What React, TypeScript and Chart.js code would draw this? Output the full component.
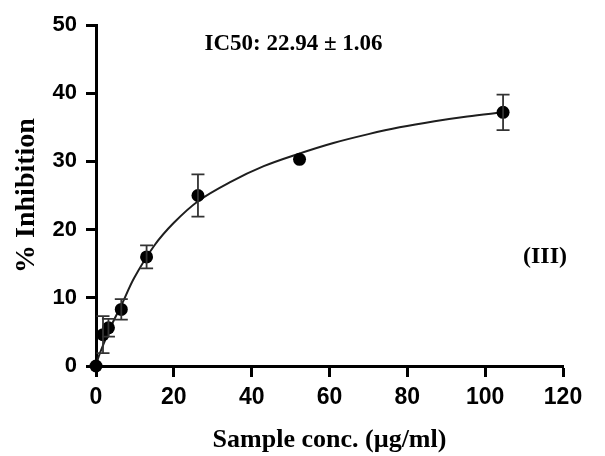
import React, { useEffect, useRef } from "react";
import { Chart, registerables } from "chart.js";

Chart.register(...registerables);

const conc = [0, 1.8, 3.2, 6.5, 13.0, 26.2, 52.3, 104.6];
const inhibition = [0, 4.6, 5.6, 8.3, 16.0, 25.0, 30.3, 37.2];
const errors = [0, 2.7, 1.3, 1.5, 1.7, 3.1, 0, 2.6];

// Fitted curve
const curveX = [0, 0.7, 2, 4, 6.6, 9.8, 14.9, 20, 26.3, 34.6, 43.1, 52, 61, 70, 78, 87, 95.4, 104.6];
const curveY = [0, 1.4, 3.3, 6.0, 9.0, 12.9, 17.6, 21.0, 24.2, 27.0, 29.3, 31.1, 32.7, 34.0, 35.0, 35.9, 36.6, 37.2];

const xTicks = [0, 20, 40, 60, 80, 100, 120];
const yTicks = [0, 10, 20, 30, 40, 50];

const titleText = "IC50: 22.94 ± 1.06";
const panelText = "(III)";
const xTitle = "Sample conc. (µg/ml)";
const yTitle = "% Inhibition";

const SERIF = "'Liberation Serif', 'Times New Roman', serif";
const SANS = "'Liberation Sans', Arial, sans-serif";

const errorBarPlugin = {
  id: "errorBars",
  afterDatasetsDraw(chart: any) {
    const { ctx, scales } = chart;
    const xs = scales.x;
    const ys = scales.y;
    ctx.save();
    ctx.strokeStyle = "#333";
    ctx.lineWidth = 1.8;
    for (let i = 0; i < conc.length; i++) {
      const e = errors[i];
      if (!e) continue;
      const px = xs.getPixelForValue(conc[i]);
      const top = ys.getPixelForValue(inhibition[i] + e);
      const bot = ys.getPixelForValue(inhibition[i] - e);
      ctx.beginPath();
      ctx.moveTo(px, top);
      ctx.lineTo(px, bot);
      ctx.moveTo(px - 6.5, top);
      ctx.lineTo(px + 6.5, top);
      ctx.moveTo(px - 6.5, bot);
      ctx.lineTo(px + 6.5, bot);
      ctx.stroke();
    }
    ctx.restore();
  },
};

const textPlugin = {
  id: "annotText",
  afterDraw(chart: any) {
    const { ctx } = chart;
    ctx.save();
    ctx.fillStyle = "#000";
    ctx.textAlign = "center";
    ctx.textBaseline = "middle";
    ctx.font = `bold 23px ${SERIF}`;
    ctx.fillText(titleText, 293.5, 44);
    ctx.font = `bold 24px ${SERIF}`;
    ctx.fillText(panelText, 545, 257);
    ctx.restore();
  },
};

export default function App() {
  const ref = useRef<HTMLCanvasElement | null>(null);

  useEffect(() => {
    if (!ref.current) return;
    const points = conc.map((x, i) => ({ x, y: inhibition[i] }));
    const curve = curveX.map((x, i) => ({ x, y: curveY[i] }));
    const chart = new Chart(ref.current, {
      type: "scatter",
      data: {
        datasets: [
          {
            label: "data",
            data: points,
            showLine: false,
            pointRadius: 6.5,
            pointHoverRadius: 6.5,
            backgroundColor: "#000",
            borderColor: "#000",
            borderWidth: 0,
            clip: false,
            order: 1,
          } as any,
          {
            label: "fit",
            data: curve,
            showLine: true,
            pointRadius: 0,
            borderColor: "#1e1e1e",
            borderWidth: 2,
            tension: 0.35,
            fill: false,
            clip: false,
            order: 2,
          } as any,
        ],
      },
      options: {
        responsive: false,
        animation: false,
        events: [],
        layout: { padding: { top: 25, right: 42, left: 0, bottom: 0 } },
        plugins: { legend: { display: false }, tooltip: { enabled: false } },
        scales: {
          x: {
            type: "linear",
            min: 0,
            max: 120,
            afterBuildTicks(scale: any) {
              scale.ticks = xTicks.map((v) => ({ value: v }));
            },
            ticks: {
              color: "#000",
              font: { family: SANS, weight: "bold", size: 23 },
              padding: 7,
              maxRotation: 0,
              autoSkip: false,
            },
            grid: {
              drawOnChartArea: false,
              drawTicks: true,
              tickLength: 11,
              tickWidth: 3,
              tickColor: "#000",
            },
            border: { display: true, color: "#000", width: 3 },
            title: {
              display: true,
              text: xTitle,
              color: "#000",
              font: { family: SERIF, weight: "bold", size: 26 },
              padding: { top: 0, bottom: 0 },
            },
            afterFit(scale: any) {
              scale.height = 90;
            },
          },
          y: {
            type: "linear",
            min: 0,
            max: 50,
            afterBuildTicks(scale: any) {
              scale.ticks = yTicks.map((v) => ({ value: v }));
            },
            ticks: {
              color: "#000",
              font: { family: SANS, weight: "bold", size: 22 },
              padding: 9,
              autoSkip: false,
            },
            grid: {
              drawOnChartArea: false,
              drawTicks: true,
              tickLength: 10,
              tickWidth: 3,
              tickColor: "#000",
            },
            border: { display: true, color: "#000", width: 3 },
            title: {
              display: true,
              text: yTitle,
              color: "#000",
              font: { family: SERIF, weight: "bold", size: 28 },
              padding: { top: 10, bottom: 0 },
            },
            afterFit(scale: any) {
              scale.width = 96;
            },
          },
        },
      } as any,
      plugins: [errorBarPlugin, textPlugin],
    });
    return () => chart.destroy();
  }, []);

  return (
    <div style={{ position: "absolute", left: 0, top: 0, width: 605, height: 456, background: "#fff" }}>
      <canvas ref={ref} width={605} height={456} style={{ width: 605, height: 456, display: "block" }} />
    </div>
  );
}
